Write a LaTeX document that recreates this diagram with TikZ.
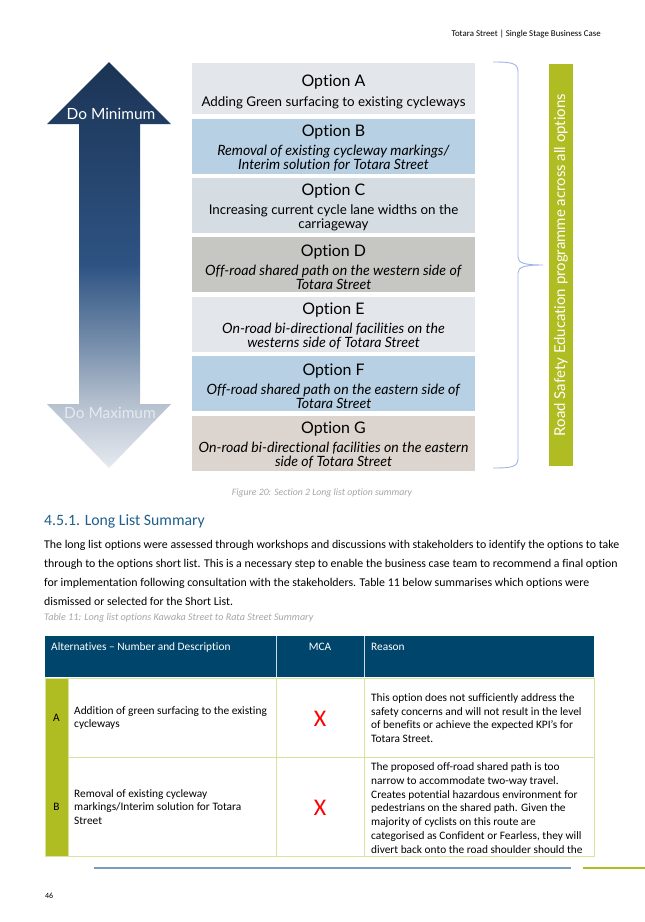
\documentclass[tikz,border=0pt]{standalone}
\usepackage{fontspec}
\setmainfont[Ligatures=NoCommon]{Carlito}
\newfontfamily\diagfont[Ligatures=NoCommon]{Lato}
\usetikzlibrary{positioning}

\definecolor{arrowtop}{HTML}{1B3455}
\definecolor{arrowmid}{HTML}{2E5383}
\definecolor{arrowsoft}{HTML}{7890AD}
\definecolor{arrowpale}{HTML}{B5C0CF}
\definecolor{arrowlow}{HTML}{E6EAF0}
\definecolor{optgrey}{HTML}{E3E7EB}
\definecolor{optblue}{HTML}{B7D0E3}
\definecolor{optslate}{HTML}{D5DCE2}
\definecolor{optstone}{HTML}{C6C7C2}
\definecolor{optsand}{HTML}{DCD5CF}
\definecolor{bracecol}{HTML}{9DB5E6}
\definecolor{olive}{HTML}{AFBD22}
\definecolor{headblue}{HTML}{1F5F8B}
\definecolor{tablehead}{HTML}{00466C}
\definecolor{tableline}{HTML}{D6E39A}
\definecolor{capgrey}{HTML}{A6A6A6}
\definecolor{footblue}{HTML}{7A9CBB}

\pgfdeclareverticalshading{scalearrow}{100bp}{color(0bp)=(arrowlow); color(25bp)=(arrowlow);
  color(33bp)=(arrowpale); color(40bp)=(arrowsoft); color(50bp)=(arrowmid);
  color(75bp)=(arrowtop); color(100bp)=(arrowtop)}

% option title and italic description line
\newcommand{\opttitle}[2][16pt]{{\fontsize{16}{18}\selectfont\rule{0pt}{#1}Option #2}}
\newcommand{\optline}[1]{\textit{\fontsize{14.2}{14}\selectfont #1}}

\begin{document}
\begin{tikzpicture}[x=1bp,y=-1bp,
    optbox/.style={minimum width=283bp,minimum height=55bp,inner sep=0pt,align=center,
      font=\diagfont\fontsize{13.4}{14}\selectfont},
    bodytext/.style={inner sep=0pt,align=left,font=\fontsize{11.4}{13.8}\selectfont},
    cellletter/.style={inner sep=0pt,font=\fontsize{11.4}{13.8}\selectfont},
    rejected/.style={inner sep=0pt,text=red,font=\fontsize{24}{26}\selectfont}]
  \useasboundingbox (0,0) rectangle (645,922);
  \fill[white] (0,0) rectangle (645,922);

  \node[anchor=east,inner sep=0pt,font=\fontsize{8.9}{11}\selectfont] (runhead) at (601,34) {Totara Street | Single Stage Business Case};

  % scale arrow
  \shade[shading=scalearrow]
    (109,62) -- (171,124) -- (140,124) -- (140,404) -- (171,404) -- (109,468)
    -- (47,404) -- (79,404) -- (79,124) -- (47,124) -- cycle;
  \node[text=white,font=\diagfont\fontsize{15.5}{17}\selectfont] (domin) at (111,114) {Do Minimum};
  \node[text=arrowlow,font=\diagfont\fontsize{15.5}{17}\selectfont] (domax) at (110,413) {Do Maximum};

  % options
  \node[optbox,fill=optgrey,minimum height=51bp,anchor=north] (optA) at (333.5,63)
    {\opttitle[19pt]{A}\\[6pt] Adding Green surfacing to existing cycleways};
  \node[optbox,fill=optblue,below=4bp of optA] (optB)
    {\opttitle{B}\\[5pt] \optline{Removal of existing cycleway markings/}\\ \optline{Interim solution for Totara Street}};
  \node[optbox,fill=optslate,below=4bp of optB] (optC)
    {\opttitle{C}\\[5pt] Increasing current cycle lane widths on the\\ carriageway};
  \node[optbox,fill=optstone,below=4bp of optC] (optD)
    {\opttitle{D}\\[5pt] \optline{Off-road shared path on the western side of}\\ \optline{Totara Street}};
  \node[optbox,fill=optgrey,below=4bp of optD] (optE)
    {\opttitle{E}\\[5pt] \optline{On-road bi-directional facilities on the}\\ \optline{westerns side of Totara Street}};
  \node[optbox,fill=optblue,below=4bp of optE] (optF)
    {\opttitle{F}\\[5pt] \optline{Off-road shared path on the eastern side of}\\ \optline{Totara Street}};
  \node[optbox,fill=optsand,below=4bp of optF] (optG)
    {\opttitle{G}\\[5pt] \optline{On-road bi-directional facilities on the eastern}\\ \optline{side of Totara Street}};

  % brace and education bar
  \coordinate (bracetop) at (493,62);
  \coordinate (bracetip) at (543,265);
  \coordinate (bracebot) at (493,468);
  \draw[bracecol,line width=0.9bp] (bracetop) .. controls (512,62) and (518,63) .. (518,72)
    -- (518,257) .. controls (518,263) and (524,265) .. (bracetip)
    .. controls (524,265) and (518,267) .. (518,273) -- (518,458)
    .. controls (518,467) and (512,468) .. (bracebot);
  \node[fill=olive,minimum width=402bp,minimum height=24bp,inner sep=0pt,rotate=90,
    text=white,font=\diagfont\fontsize{15}{17}\selectfont] (edubar) at (561,265)
    {Road Safety Education programme across all options};

  % text below
  \node[text=capgrey,inner sep=0pt,font=\itshape\fontsize{9.8}{11}\selectfont] (figcap) at (322,493)
    {Figure 20: Section 2 Long list option summary};
  \node[anchor=west,inner sep=0pt,text=headblue,font=\fontsize{15.8}{18}\selectfont] (sechead) at (44,521)
    {4.5.1. Long List Summary};
  \node[anchor=north west,bodytext,font=\fontsize{11.9}{19}\selectfont] (para) at (44,540)
    {The long list options were assessed through workshops and discussions with stakeholders to identify the options to take\\
     through to the options short list. This is a necessary step to enable the business case team to recommend a final option\\
     for implementation following consultation with the stakeholders. Table 11 below summarises which options were\\
     dismissed or selected for the Short List.};
  \node[anchor=west,inner sep=0pt,text=capgrey,font=\itshape\fontsize{10.2}{12}\selectfont] (tabcap) at (44,618)
    {Table 11: Long list options Kawaka Street to Rata Street Summary};

  % table
  \fill[tablehead] (45,636) rectangle (594,677);
  \draw[white!80!tablehead,line width=0.8bp] (276,636) -- (276,677) (364,636) -- (364,677);
  \fill[olive] (45,678) rectangle (68,757);
  \fill[olive] (45,757) rectangle (68,856);
  \draw[tableline,line width=1bp] (45,678) -- (594,678) -- (594,856) -- (45,856) -- cycle
    (68,757) -- (594,757) (68,678) -- (68,856) (276,678) -- (276,856) (364,678) -- (364,856);
  \node[anchor=west,cellletter,text=white] (colalt) at (51,647) {Alternatives -- Number and Description};
  \node[cellletter,text=white] (colmca) at (320,647) {MCA};
  \node[anchor=west,cellletter,text=white] (colreason) at (371,647) {Reason};

  \node[cellletter] (rowA) at (56.5,718) {A};
  \node[anchor=west,bodytext] (descA) at (74,718) {Addition of green surfacing to the existing\\ cycleways};
  \node[rejected] (mcaA) at (320,719) {X};
  \node[anchor=west,bodytext] (reasonA) at (371,718)
    {This option does not sufficiently address the\\ safety concerns and will not result in the level\\
     of benefits or achieve the expected KPI’s for\\ Totara Street.};

  \node[cellletter] (rowB) at (56.5,807) {B};
  \node[anchor=west,bodytext] (descB) at (74,807) {Removal of existing cycleway\\ markings/Interim solution for Totara\\ Street};
  \node[rejected] (mcaB) at (320,808) {X};
  \node[anchor=west,bodytext] (reasonB) at (371,808)
    {The proposed off-road shared path is too\\ narrow to accommodate two-way travel.\\
     Creates potential hazardous environment for\\ pedestrians on the shared path. Given the\\
     majority of cyclists on this route are\\ categorised as Confident or Fearless, they will\\
     divert back onto the road shoulder should the};

  % footer
  \draw[footblue,line width=1.5bp] (94,868) -- (571,868);
  \draw[olive,line width=2bp] (583,868) -- (645,868);
  \node[anchor=west,inner sep=0pt,font=\fontsize{8}{10}\selectfont] (pagenum) at (45,896) {46};
\end{tikzpicture}
\end{document}
